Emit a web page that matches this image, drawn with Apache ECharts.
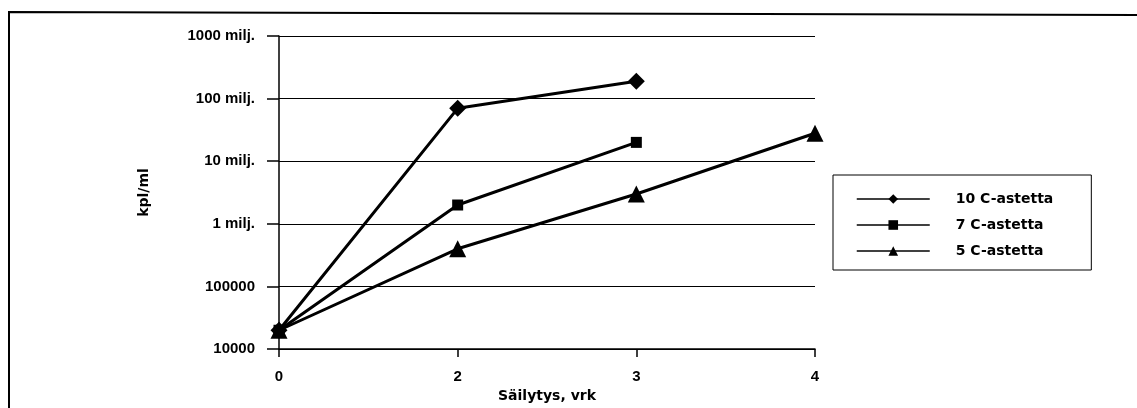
<!DOCTYPE html>
<html>
<head>
<meta charset="utf-8">
<script src="https://cdn.jsdelivr.net/npm/echarts@6/dist/echarts.min.js"></script>
<style>
  html, body { margin: 0; padding: 0; background: #fff; }
  #chart { width: 1137px; height: 408px; }
</style>
</head>
<body>
<div id="chart"></div>
<script>
// storage days (category axis)
const days = ['0', '2', '3', '4'];
// colony counts kpl/ml
const c10 = [20000, 70000000, 190000000, null];
const c7 = [20000, 2000000, 20000000, null];
const c5 = [20000, 400000, 3000000, 28000000];
const seriesNames = ['10 C-astetta', '7 C-astetta', '5 C-astetta'];

const axisFont = { fontFamily: 'Liberation Sans, Arial, sans-serif', fontWeight: 'bold', fontSize: 15, color: '#000' };
const textFont = { fontFamily: 'DejaVu Sans, sans-serif', fontWeight: 'bold', fontSize: 14, color: '#000' };

const chart = echarts.init(document.getElementById('chart'));
const option = {
  animation: false,
  backgroundColor: '#fff',
  grid: { left: 279, right: 322, top: 36, bottom: 58 },
  graphic: [
    {
      type: 'polyline',
      shape: { points: [[9, 408], [9, 12], [1137, 15]] },
      style: { stroke: '#000', lineWidth: 2, fill: null }
    }
  ],
  legend: {
    orient: 'vertical',
    left: 833,
    top: 175,
    data: seriesNames,
    itemWidth: 73,
    itemHeight: 12,
    itemGap: 12,
    padding: [17, 38, 12, 23],
    borderColor: '#000',
    borderWidth: 1,
    lineStyle: { width: 1.5 },
    textStyle: Object.assign({ padding: [0, 0, 0, 21] }, textFont)
  },
  xAxis: {
    type: 'category',
    data: days,
    boundaryGap: false,
    name: 'Säilytys, vrk',
    nameLocation: 'middle',
    nameGap: 39,
    nameTextStyle: textFont,
    axisLine: { lineStyle: { color: '#000', width: 1.5 } },
    axisTick: { show: true, length: 8, lineStyle: { color: '#000', width: 1.5 } },
    axisLabel: Object.assign({ margin: 20 }, axisFont),
    splitLine: { show: false }
  },
  yAxis: {
    type: 'log',
    logBase: 10,
    min: 10000,
    max: 1000000000,
    name: 'kpl/ml',
    nameLocation: 'middle',
    nameGap: 128,
    nameRotate: 90,
    nameTextStyle: textFont,
    axisLine: { show: true, lineStyle: { color: '#000', width: 1.5 } },
    axisTick: { show: true, length: 12, lineStyle: { color: '#000', width: 1.5 } },
    axisLabel: Object.assign({
      margin: 24,
      formatter: function (v) {
        if (v >= 1000000) return Math.round(v / 1000000) + ' milj.';
        return String(Math.round(v));
      }
    }, axisFont),
    splitLine: { show: true, lineStyle: { color: '#000', width: 1.2 } }
  },
  series: [
    {
      name: seriesNames[0], type: 'line', data: c10,
      symbol: 'diamond', symbolSize: 17,
      lineStyle: { color: '#000', width: 3 }, itemStyle: { color: '#000' }
    },
    {
      name: seriesNames[1], type: 'line', data: c7,
      symbol: 'rect', symbolSize: 11,
      lineStyle: { color: '#000', width: 3 }, itemStyle: { color: '#000' }
    },
    {
      name: seriesNames[2], type: 'line', data: c5,
      symbol: 'triangle', symbolSize: 17,
      lineStyle: { color: '#000', width: 3 }, itemStyle: { color: '#000' }
    }
  ]
};
chart.setOption(option);
</script>
</body>
</html>
